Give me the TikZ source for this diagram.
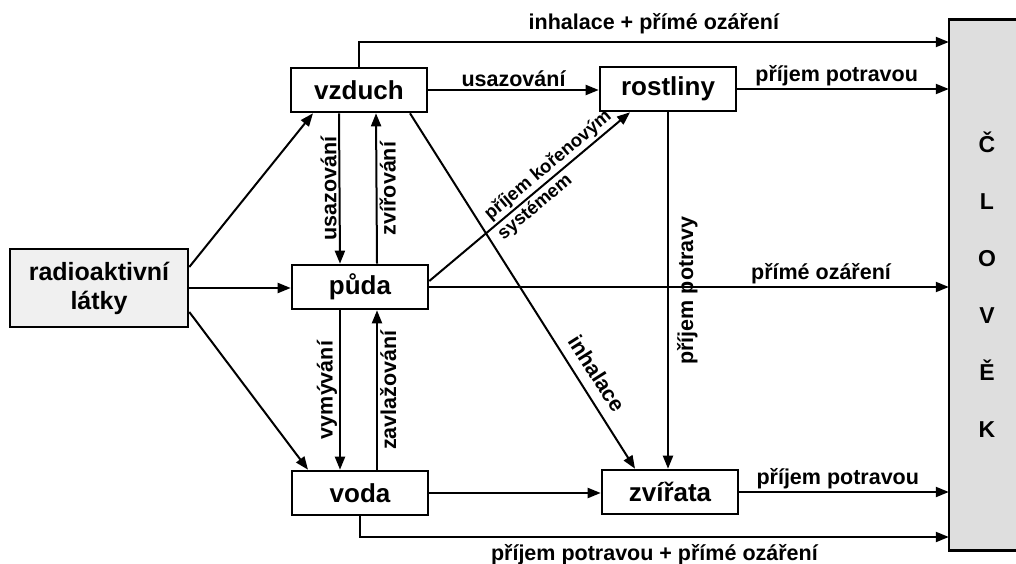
\documentclass[tikz,border=0pt]{standalone}
\usepackage{fontspec}
\setmainfont{Liberation Sans}
\usetikzlibrary{arrows.meta,calc}
\definecolor{radfill}{gray}{0.94}
\definecolor{clfill}{gray}{0.87}
\begin{document}
\begin{tikzpicture}[x=1pt,y=-1pt,
  box/.style={draw, line width=2.6pt, minimum width=136pt, minimum height=44pt, inner sep=0pt, font=\fontsize{26}{30}\selectfont\bfseries},
  conn/.style={line width=2pt, -{Triangle[length=13pt,width=10pt]}},
  lbl/.style={font=\fontsize{21.5}{24}\selectfont\bfseries, inner sep=2pt},
  smlbl/.style={font=\fontsize{18.5}{21}\selectfont\bfseries, inner sep=2pt, sloped},
]
\useasboundingbox (0,0) rectangle (1016,564);
% nodes
\node[box, fill=radfill, minimum width=178pt, minimum height=78pt, align=center, font=\fontsize{25}{29}\selectfont\bfseries] (rad) at (99,288) {radioaktivní\\látky};
\node[box] (vzduch) at (359,90) {vzduch};
\node[box] (puda) at (360,287) {půda};
\node[box] (voda) at (360,493) {voda};
\node[box] (rost) at (668,89) {rostliny};
\node[box] (zvir) at (670,492) {zvířata};
\node[fill=clfill, minimum width=67pt, minimum height=530pt, inner sep=0pt] (clovek) at (982.5,285) {};
\draw[line width=2.6pt] (clovek.north east) -- (clovek.north west) -- (clovek.south west) -- (clovek.south east);
\node[font=\fontsize{23}{57}\selectfont\bfseries, align=center] (cltext) at (987,285) {Č\\L\\O\\V\\Ě\\K};
\coordinate (ctop) at (clovek.west |- 0,42);
\coordinate (cbot) at (clovek.west |- 0,537);
% from radioactive substances
\draw[conn] ([yshift=21pt]rad.east) -- ([xshift=-46pt]vzduch.south);
\draw[conn] (rad.east) -- (rad.east -| puda.west);
\draw[conn] ([yshift=-24pt]rad.east) -- ([xshift=-52pt]voda.north);
% vzduch <-> puda
\draw[conn] ([xshift=-20pt]vzduch.south) -- node[lbl, rotate=90, anchor=south, midway] {usazování} ([xshift=-20pt]puda.north);
\draw[conn] ([xshift=17pt]puda.north) -- node[lbl, rotate=90, anchor=north, midway] {zvířování} ([xshift=17pt]vzduch.south);
% puda <-> voda
\draw[conn] ([xshift=-20pt]puda.south) -- node[lbl, rotate=90, anchor=south, midway] {vymývání} ([xshift=-20pt]voda.north);
\draw[conn] ([xshift=17pt]voda.north) -- node[lbl, rotate=90, anchor=north, midway] {zavlažování} ([xshift=17pt]puda.south);
% vzduch
\draw[conn] (vzduch.east) -- node[lbl, above, midway] {usazování} (vzduch.east -| rost.west);
\draw[conn] (vzduch.north) |- node[lbl, above=5pt, pos=0.75] {inhalace + přímé ozáření} (ctop);
\draw[conn] ([xshift=51pt]vzduch.south) -- node[lbl, sloped, above=8pt, pos=0.76] {inhalace} ([xshift=-35pt]zvir.north);
% rostliny
\draw[conn] (rost.east) -- node[lbl, above, pos=0.47] {příjem potravou} (rost.east -| clovek.west);
\draw[conn] (rost.south) -- node[lbl, rotate=90, anchor=north, inner ysep=8pt, midway] {příjem potravy} (rost.south |- zvir.north);
% puda
\draw[conn] ([yshift=6pt]puda.east) -- node[smlbl, above, pos=0.63] {příjem kořenovým} node[smlbl, below, pos=0.49] {systémem} ([xshift=-38pt]rost.south);
\draw[conn] (puda.east) -- node[lbl, above, pos=0.754] {přímé ozáření} (puda.east -| clovek.west);
% voda
\draw[conn] (voda.east) -- (voda.east -| zvir.west);
\draw[conn] (voda.south) |- node[lbl, below=4pt, pos=0.75] {příjem potravou + přímé ozáření} (cbot);
% zvirata
\draw[conn] (zvir.east) -- node[lbl, above, pos=0.47] {příjem potravou} (zvir.east -| clovek.west);
\end{tikzpicture}
\end{document}
